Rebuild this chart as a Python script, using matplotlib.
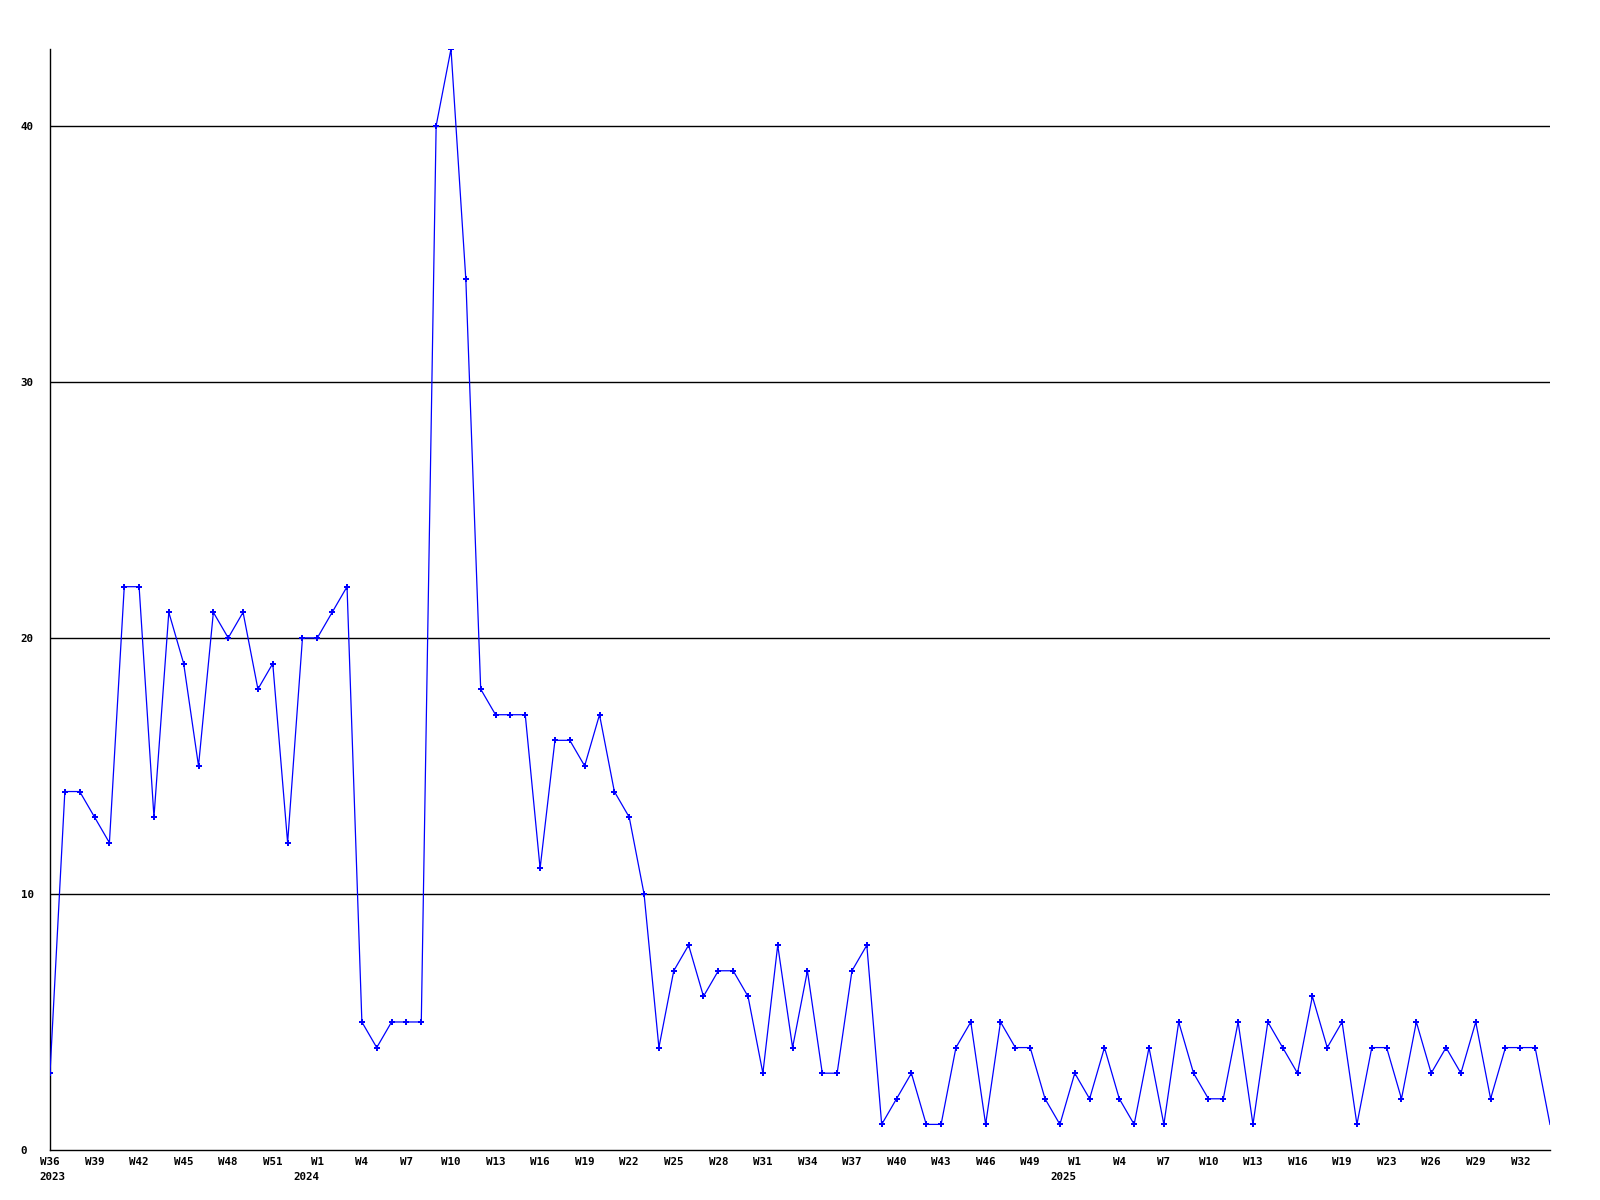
import matplotlib
matplotlib.use("Agg")
import matplotlib.pyplot as plt

# weekly counts, W36 2023 .. W33 2025
values = [3, 14, 14, 13, 12, 22, 22, 13, 21, 19, 15, 21, 20, 21, 18, 19, 12,
          20, 20, 21, 22, 5, 4, 5, 5, 5, 40, 43, 34, 18, 17, 17, 17, 11, 16,
          16, 15, 17, 14, 13, 10, 4, 7, 8, 6, 7, 7, 6, 3, 8, 4, 7, 3, 3, 7, 8,
          1, 2, 3, 1, 1, 4, 5, 1, 5, 4, 4, 2, 1, 3, 2, 4, 2, 1, 4, 1, 5, 3, 2,
          2, 5, 1, 5, 4, 3, 6, 4, 5, 1, 4, 4, 2, 5, 3, 4, 3, 5, 2, 4, 4, 4, 1]
week_labels = ["W36", "W39", "W42", "W45", "W48", "W51", "W1", "W4", "W7",
               "W10", "W13", "W16", "W19", "W22", "W25", "W28", "W31", "W34",
               "W37", "W40", "W43", "W46", "W49", "W1", "W4", "W7", "W10",
               "W13", "W16", "W19", "W23", "W26", "W29", "W32"]
year_labels = ["2023", "2024", "2025"]
year_pos = [0, 18, 69]
yticks = [0, 10, 20, 30, 40]

x = list(range(len(values)))
font = dict(family="DejaVu Sans Mono", weight="bold", size=7.8)

fig = plt.figure(figsize=(16, 12), dpi=100)
ax = fig.add_axes([50 / 1600, 50 / 1200, 1500 / 1600, 1101 / 1200])

for v in yticks[1:]:
    ax.axhline(v, color="black", lw=1.0, zorder=1)

ax.plot(x, values, color="#0000ff", lw=0.9, marker="P", markersize=4.5,
        markeredgewidth=0, markevery=list(range(len(values) - 1)), zorder=3)

ax.set_xlim(0, len(values) - 1)
ax.set_ylim(0, 43)
for s in ["top", "right"]:
    ax.spines[s].set_visible(False)
ax.spines["left"].set_linewidth(1.0)
ax.spines["bottom"].set_linewidth(1.0)

ax.set_yticks(yticks)
ax.set_yticklabels([str(v) for v in yticks], fontdict=font, ha="left")
ax.tick_params(axis="y", length=0, pad=21)

ax.set_xticks(x[::3][:len(week_labels)])
ax.set_xticklabels(week_labels, fontdict=font)
ax.tick_params(axis="x", length=0, pad=5)

for lab, p in zip(year_labels, year_pos):
    ax.annotate(lab, xy=(p, 0), xycoords=("data", "axes fraction"),
                xytext=(-8 if p else 2, -16), textcoords="offset points",
                ha="center", va="top", **font)

fig.savefig("out.png", dpi=100)
